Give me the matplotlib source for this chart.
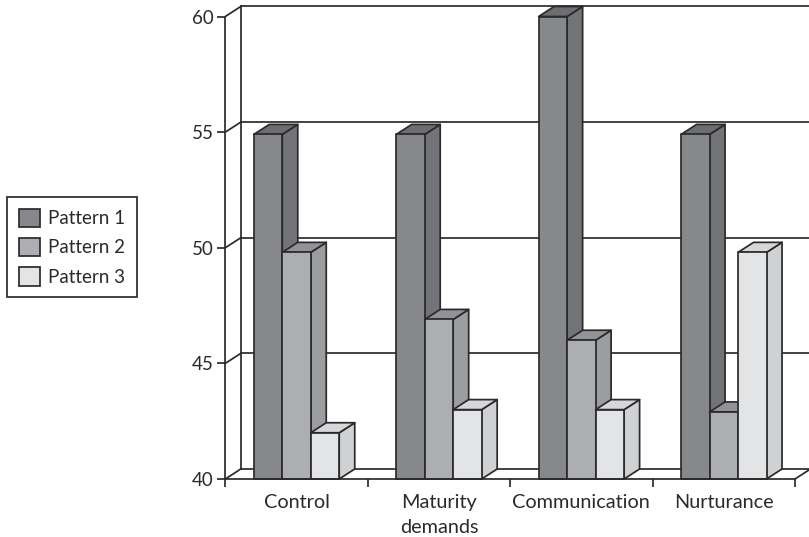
import matplotlib
matplotlib.use('Agg')
import matplotlib.pyplot as plt
from matplotlib.patches import Patch

plt.rcParams['font.family'] = ['Lato', 'DejaVu Sans']

categories = ['Control', 'Maturity\ndemands', 'Communication', 'Nurturance']
series_names = ['Pattern 1', 'Pattern 2', 'Pattern 3']
pattern1 = [54.9, 54.9, 60, 54.9]
pattern2 = [49.8, 46.9, 46, 42.9]
pattern3 = [42, 43, 43, 49.8]
y_ticks = [40, 45, 50, 55, 60]

front = ['#87888c', '#adaeb2', '#e3e4e6']
top = ['#6d6e71', '#929397', '#d6d7d9']
side = ['#737478', '#9c9da1', '#d0d1d3']
ink = '#2b2a2b'
lw = 1.25

W, H = 809, 537
fig = plt.figure(figsize=(W / 100, H / 100), dpi=100)
ax = fig.add_axes([225.3 / W, (H - 479) / H, 569.7 / W, 462.5 / H])
ax.set_xlim(0, 4)
ax.set_ylim(40, 60)

# depth of the fake 3d box, in data units
dx = 15.5 / 142.4
dy = 10 / 23.1

# back wall and floor
for v in y_ticks:
    ax.plot([0, dx], [v, v + dy], color=ink, lw=lw, clip_on=False, zorder=1)
    ax.plot([dx, 4 + dx], [v + dy, v + dy], color=ink, lw=lw, clip_on=False, zorder=1)
ax.plot([dx, dx], [40 + dy, 60 + dy], color=ink, lw=lw, clip_on=False, zorder=1)
ax.plot([4, 4 + dx], [40, 40 + dy], color=ink, lw=lw, clip_on=False, zorder=1)

# bars, left to right so each one covers the side of the one before
bar_w = 0.2
for i in range(len(categories)):
    for j, vals in enumerate([pattern1, pattern2, pattern3]):
        x0 = i + 0.2 + j * bar_w
        x1 = x0 + bar_w
        v = vals[i]
        z = 2 + i + j * 0.1
        kw = dict(edgecolor=ink, linewidth=lw, clip_on=False, zorder=z, joinstyle='round')
        ax.fill([x1, x1 + dx, x1 + dx, x1], [40, 40 + dy, v + dy, v], facecolor=side[j], **kw)
        ax.fill([x0, x1, x1 + dx, x0 + dx], [v, v, v + dy, v + dy], facecolor=top[j], **kw)
        ax.fill([x0, x1, x1, x0], [40, 40, v, v], facecolor=front[j], **kw)

for s in ['top', 'right']:
    ax.spines[s].set_visible(False)
for s in ['left', 'bottom']:
    ax.spines[s].set_color(ink)
    ax.spines[s].set_linewidth(lw)
    ax.spines[s].set_zorder(10)

ax.set_yticks(y_ticks)
ax.set_xticks(range(5))
ax.set_xticklabels([])
ax.set_xticks([i + 0.5 for i in range(4)], minor=True)
ax.set_xticklabels(categories, minor=True, fontsize=14.3, color=ink, linespacing=1.55)
ax.tick_params(axis='x', which='minor', length=0, pad=11)
ax.tick_params(axis='x', which='major', length=5.5, width=lw, color=ink)
ax.tick_params(axis='y', length=5.5, width=lw, color=ink, labelsize=13.5, labelcolor=ink, pad=3)

handles = [Patch(facecolor=c, edgecolor=ink, linewidth=lw) for c in front]
leg = fig.legend(handles, series_names, loc='upper left',
                 bbox_to_anchor=(7 / W, 1 - 197 / H), borderaxespad=0,
                 fontsize=13.5, fancybox=False, framealpha=1, edgecolor=ink,
                 handlelength=1.12, handleheight=1.12, handletextpad=0.45,
                 labelspacing=0.58, borderpad=0.62, labelcolor=ink)
leg.get_frame().set_linewidth(lw)

fig.savefig('out.png', dpi=100)
